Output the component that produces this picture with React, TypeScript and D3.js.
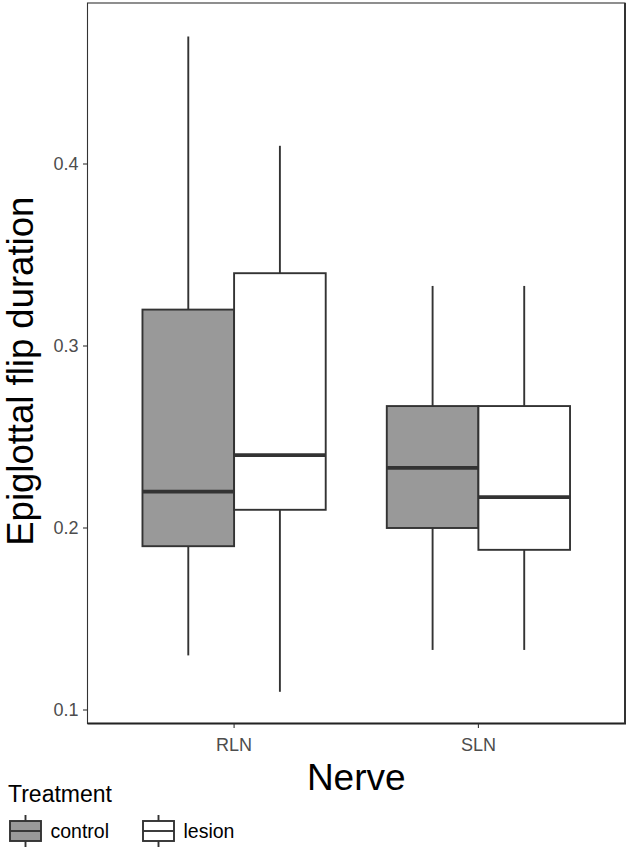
import React from "react";
import * as d3 from "d3";

const nerves = ["RLN", "SLN"];
const treatments = ["control", "lesion"];
const fills = ["#999999", "#ffffff"];
// order: RLN-control, RLN-lesion, SLN-control, SLN-lesion
const groupNerve = ["RLN", "RLN", "SLN", "SLN"];
const groupTreatment = ["control", "lesion", "control", "lesion"];
const whiskerLow = [0.13, 0.11, 0.133, 0.133];
const q1 = [0.19, 0.21, 0.2, 0.188];
const median = [0.22, 0.24, 0.233, 0.217];
const q3 = [0.32, 0.34, 0.267, 0.267];
const whiskerHigh = [0.47, 0.41, 0.333, 0.333];
const yTicks = [0.1, 0.2, 0.3, 0.4];

const W = 630;
const H = 852;
const FONT = "'Liberation Sans', Arial, Helvetica, sans-serif";

export default function App() {
  const left = 87.5;
  const right = 625;
  const top = 3;
  const bottom = 723.5;

  const y = d3.scaleLinear().domain([0.1, 0.4]).range([710, 164]);
  const x = d3.scalePoint<string>().domain(nerves).range([left, right]).padding(0.6);
  const step = x.step();
  const dodge = d3
    .scaleBand<string>()
    .domain(treatments)
    .range([-0.375 * step, 0.375 * step]);
  const bw = dodge.bandwidth();
  const stroke = "#333333";
  const sw = 1.9;

  return (
    <svg
      width={W}
      height={H}
      style={{ position: "absolute", left: 0, top: 0, background: "#fff" }}
      fontFamily={FONT}
    >
      <rect x={0} y={0} width={W} height={H} fill="#fff" />
      {/* boxes */}
      {groupNerve.map((n, i) => {
        const t = groupTreatment[i];
        const x0 = (x(n) as number) + (dodge(t) as number);
        const cx = x0 + bw / 2;
        const fill = fills[treatments.indexOf(t)];
        return (
          <g key={i}>
            <line x1={cx} x2={cx} y1={y(whiskerHigh[i])} y2={y(q3[i])} stroke={stroke} strokeWidth={sw} />
            <line x1={cx} x2={cx} y1={y(q1[i])} y2={y(whiskerLow[i])} stroke={stroke} strokeWidth={sw} />
            <rect
              x={x0}
              y={y(q3[i])}
              width={bw}
              height={y(q1[i]) - y(q3[i])}
              fill={fill}
              stroke={stroke}
              strokeWidth={sw}
            />
            <line x1={x0} x2={x0 + bw} y1={y(median[i])} y2={y(median[i])} stroke={stroke} strokeWidth={3.8} />
          </g>
        );
      })}
      {/* panel border */}
      <rect x={left} y={top} width={right - left} height={bottom - top} fill="none" stroke="#333" strokeWidth={1.1} />
      <line x1={left} x2={right + 1} y1={bottom} y2={bottom} stroke="#222" strokeWidth={2} />
      <line x1={right} x2={right} y1={top} y2={bottom} stroke="#333" strokeWidth={2} />
      {/* y axis */}
      {yTicks.map((t) => (
        <g key={t}>
          <line x1={left - 4.5} x2={left} y1={y(t)} y2={y(t)} stroke="#333" strokeWidth={1.1} />
          <text
            x={left - 9}
            y={y(t)}
            dy="0.35em"
            textAnchor="end"
            fontSize={18}
            fill="#4d4d4d"
          >
            {t.toFixed(1)}
          </text>
        </g>
      ))}
      {/* x axis */}
      {nerves.map((n) => (
        <g key={n}>
          <line x1={x(n)} x2={x(n)} y1={bottom} y2={bottom + 4.5} stroke="#333" strokeWidth={1.1} />
          <text x={x(n)} y={751} textAnchor="middle" fontSize={18} fill="#4d4d4d">
            {n}
          </text>
        </g>
      ))}
      {/* axis titles */}
      <text x={(left + right) / 2} y={790} textAnchor="middle" fontSize={37} fill="#000">
        Nerve
      </text>
      <text
        transform={`translate(33,${(top + bottom) / 2 + 8}) rotate(-90)`}
        textAnchor="middle"
        fontSize={36.5}
        fill="#000"
      >
        Epiglottal flip duration
      </text>
      {/* legend */}
      <text x={8} y={802} fontSize={23} fill="#000">
        Treatment
      </text>
      {treatments.map((t, i) => {
        const kx = i === 0 ? 10 : 143;
        const kw = 31;
        const cx = kx + kw / 2;
        return (
          <g key={t}>
            <line x1={cx} x2={cx} y1={815} y2={847} stroke={stroke} strokeWidth={sw} />
            <rect x={kx} y={821} width={kw} height={20} fill={fills[i]} stroke={stroke} strokeWidth={sw} />
            <line x1={kx} x2={kx + kw} y1={831} y2={831} stroke={stroke} strokeWidth={sw} />
            <text x={kx + kw + 9.5} y={838} fontSize={19.5} fill="#000">
              {t}
            </text>
          </g>
        );
      })}
    </svg>
  );
}
